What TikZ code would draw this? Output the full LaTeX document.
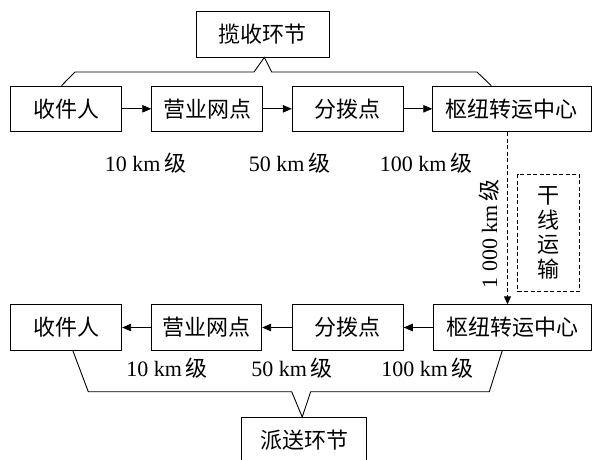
\documentclass[tikz,border=0pt]{standalone}
\usepackage{fontspec}
\setmainfont{Liberation Serif}
\newfontfamily\cjk{Noto Sans CJK SC}
\usetikzlibrary{arrows.meta,calc}
\begin{document}
\begin{tikzpicture}[x=1pt,y=-1pt,
  box/.style={draw,line width=0.9pt,inner sep=0pt,minimum height=45.5pt,font=\cjk\fontsize{22}{24}\selectfont},
  lbl/.style={inner sep=0pt,font=\fontsize{22}{24}\selectfont},
  flow/.style={line width=0.9pt,-{Triangle[length=9pt,width=7.5pt]}},
  brace/.style={line width=0.9pt},
  dsh/.style={dash pattern=on 4pt off 2.5pt}]
\useasboundingbox (0,0) rectangle (596,459);
% top row
\node[box,minimum width=111pt] (s1) at (66.2,108.8) {收件人};
\node[box,minimum width=111pt] (s2) at (207.2,108.8) {营业网点};
\node[box,minimum width=111pt] (s3) at (347.8,108.8) {分拨点};
\node[box,minimum width=158.3pt] (s4) at (511.85,108.8) {枢纽转运中心};
\node[box,minimum width=132.3pt] (c1) at (262.85,34.2) {揽收环节};
% bottom row
\node[box,minimum width=111pt] (r1) at (66.2,327.5) {收件人};
\node[box,minimum width=110pt] (r2) at (206.7,327.5) {营业网点};
\node[box,minimum width=111pt] (r3) at (347.8,327.5) {分拨点};
\node[box,minimum width=157.7pt] (r4) at (512.15,327.5) {枢纽转运中心};
\node[box,minimum width=125pt] (p1) at (304.2,440.2) {派送环节};
% arrows
\draw[flow] (s1) -- (s2);
\draw[flow] (s2) -- (s3);
\draw[flow] (s3) -- (s4);
\draw[flow] (r4) -- (r3);
\draw[flow] (r3) -- (r2);
\draw[flow] (r2) -- (r1);
% labels
\node[lbl] (l1) at (145.5,163) {10 km\,{\cjk 级}};
\node[lbl] (l2) at (289.5,163) {50 km\,{\cjk 级}};
\node[lbl] (l3) at (426,163) {100 km\,{\cjk 级}};
\node[lbl] (m1) at (167,368.3) {10 km\,{\cjk 级}};
\node[lbl] (m2) at (292,368.3) {50 km\,{\cjk 级}};
\node[lbl] (m3) at (427.5,368.3) {100 km\,{\cjk 级}};
% trunk transport
\coordinate (dx) at (507.5,0);
\draw[flow,dsh,-{Triangle[length=8pt,width=7pt]}] (s4.south -| dx) -- (r4.north -| dx);
\node[lbl,rotate=90] (d1) at (488.7,234) {1 000 km\,{\cjk 级}};
\node[draw,dsh,line width=0.9pt,inner sep=0pt,minimum width=61.6pt,minimum height=117.4pt,align=center,font=\cjk\fontsize{22}{24.6}\selectfont] (tb) at (548.5,233) {干\\线\\运\\输};
% brackets
\draw[brace] ($(s1.north west)+(51.3,0)$) -- (75,72) -- (254,72) -- ($(c1.south)+(1.5,0)$) -- (271.7,72) -- (477,72) -- ($(s4.north west)+(59,0)$);
\draw[brace] ($(r1.south west)+(62.6,0)$) -- (88.3,391.7) -- (291.7,391.7) -- ($(p1.north)+(-2,0)$) -- (310.7,391.7) -- (489.3,391.7) -- ($(r4.south west)+(69.4,0)$);
\end{tikzpicture}
\end{document}
